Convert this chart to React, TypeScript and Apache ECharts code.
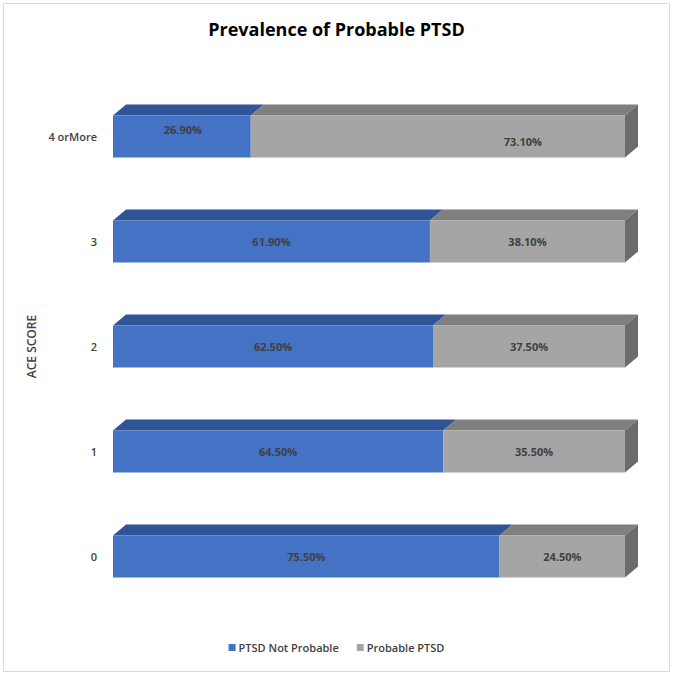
import React, { useEffect, useRef } from "react";
import * as echarts from "echarts";

const categories = ["0", "1", "2", "3", "4 orMore"];
const notProbable = [75.5, 64.5, 62.5, 61.9, 26.9];
const probable = [24.5, 35.5, 37.5, 38.1, 73.1];
const seriesNames = ["PTSD Not Probable", "Probable PTSD"];

const FONT = "'Open Sans', 'Liberation Sans', sans-serif";
const DX = 13;
const DY = 11;

const palettes = [
  { front: "#4472C4", top: "#2F5597", side: "#2F5597" },
  { front: "#A5A5A5", top: "#7F7F7F", side: "#6B6B6B" },
];

// small label nudges (style only) for the top category, as in the reference
const labelShift: Record<string, [number, number]> = {
  "0-4": [1, -7],
  "1-4": [85, 5],
};

function makeRenderItem(sIdx: number, isLast: boolean) {
  return (params: any, api: any) => {
    const start = api.value(0);
    const end = api.value(1);
    const cat = api.value(2);
    const p0 = api.coord([start, cat]);
    const p1 = api.coord([end, cat]);
    const band = api.size([0, 1])[1];
    const h = band * 0.4;
    const y0 = p0[1] - h / 2;
    const y1 = y0 + h;
    const x0 = p0[0];
    const x1 = p1[0];
    const pal = palettes[sIdx];
    const children: any[] = [
      {
        type: "polygon",
        shape: {
          points: [
            [x0, y0],
            [x0 + DX, y0 - DY],
            [x1 + DX, y0 - DY],
            [x1, y0],
          ],
        },
        style: { fill: pal.top },
      },
      {
        type: "rect",
        shape: { x: x0, y: y0, width: x1 - x0, height: h },
        style: { fill: pal.front },
      },
    ];
    if (isLast) {
      children.push({
        type: "polygon",
        shape: {
          points: [
            [x1, y0],
            [x1 + DX, y0 - DY],
            [x1 + DX, y1 - DY],
            [x1, y1],
          ],
        },
        style: { fill: pal.side },
      });
    }
    const shift = labelShift[`${sIdx}-${cat}`] || [0, 0];
    children.push({
      type: "text",
      x: (x0 + x1) / 2 + shift[0],
      y: (y0 + y1) / 2 + shift[1],
      style: {
        text: (end - start).toFixed(2) + "%",
        fill: "#404040",
        font: `bold 11px ${FONT}`,
        align: "center",
        verticalAlign: "middle",
      },
    });
    return { type: "group", children };
  };
}

export default function App() {
  const ref = useRef<HTMLDivElement>(null);
  useEffect(() => {
    if (!ref.current) return;
    const chart = echarts.init(ref.current, null, { renderer: "svg" });
    const blueData = categories.map((_, i) => [0, notProbable[i], i]);
    const grayData = categories.map((_, i) => [
      notProbable[i],
      notProbable[i] + probable[i],
      i,
    ]);
    chart.setOption({
      animation: false,
      backgroundColor: "#ffffff",
      title: {
        text: "Prevalence of Probable PTSD",
        left: "center",
        top: 15,
        textStyle: {
          fontFamily: FONT,
          fontSize: 18,
          fontWeight: "bold",
          color: "#000000",
        },
      },
      graphic: [
        {
          type: "rect",
          shape: { x: 3.5, y: 3.5, width: 666, height: 668 },
          style: { fill: "none", stroke: "#D9D9D9", lineWidth: 1 },
          silent: true,
        },
      ],
      legend: {
        bottom: 17,
        left: "center",
        itemWidth: 7,
        itemHeight: 7,
        itemGap: 18,
        icon: "rect",
        textStyle: {
          fontFamily: FONT,
          fontSize: 11,
          fontWeight: 600,
          color: "#404040",
          padding: [0, 0, 0, -2],
        },
        data: seriesNames,
      },
      grid: { left: 113, right: 48, top: 84, bottom: 66 },
      xAxis: {
        type: "value",
        min: 0,
        max: 100,
        show: false,
      },
      yAxis: {
        type: "category",
        data: categories,
        name: "ACE SCORE",
        nameLocation: "middle",
        nameGap: 72,
        nameRotate: 90,
        nameTextStyle: {
          fontFamily: FONT,
          fontSize: 12,
          fontWeight: 600,
          color: "#404040",
        },
        axisLine: { show: false },
        axisTick: { show: false },
        splitLine: { show: false },
        axisLabel: {
          margin: 16,
          fontFamily: FONT,
          fontSize: 11,
          fontWeight: 600,
          color: "#404040",
        },
      },
      series: [
        {
          name: seriesNames[0],
          type: "custom",
          renderItem: makeRenderItem(0, false),
          encode: { x: [0, 1], y: 2 },
          itemStyle: { color: palettes[0].front },
          data: blueData,
          z: 2,
        },
        {
          name: seriesNames[1],
          type: "custom",
          renderItem: makeRenderItem(1, true),
          encode: { x: [0, 1], y: 2 },
          itemStyle: { color: palettes[1].front },
          data: grayData,
          z: 3,
        },
      ],
    });
    return () => chart.dispose();
  }, []);
  return (
    <div
      ref={ref}
      style={{ position: "fixed", left: 0, top: 0, width: 673, height: 675 }}
    />
  );
}
